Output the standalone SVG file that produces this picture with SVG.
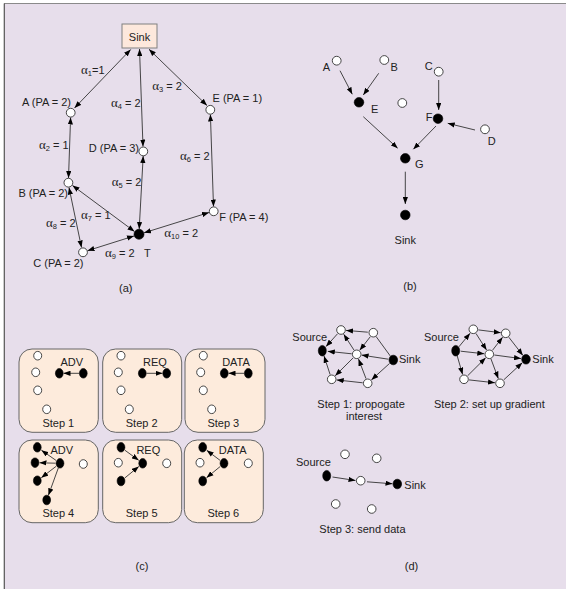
<svg xmlns="http://www.w3.org/2000/svg" width="566" height="589" viewBox="0 0 566 589">
<style>
text{font-family:"Liberation Sans",Arial,sans-serif;font-size:11px;fill:#222}
.g{font-family:"Liberation Serif","Times New Roman",serif;font-size:13px}
.sb{font-size:7.5px}
.m{text-anchor:middle}
.e{text-anchor:end}
.ln{stroke:#333;stroke-width:0.9;fill:none}
.w{fill:#fff;stroke:#333;stroke-width:0.9}
.b{fill:#000;stroke:#000;stroke-width:0.6}
.box{fill:#fdebdc;stroke:#666;stroke-width:1}
</style>
<defs>
<marker id="ah" viewBox="0 0 8 6" refX="8" refY="3" markerWidth="7" markerHeight="5.5" markerUnits="userSpaceOnUse" orient="auto-start-reverse">
<path d="M0,0 L8,3 L0,6 z" fill="#000"/>
</marker>
</defs>
<rect x="0" y="0" width="566" height="589" fill="#fff"/>
<rect x="4" y="3.5" width="562" height="586" fill="#e7deeb"/>
<line x1="4" y1="3.5" x2="566" y2="3.5" stroke="#8a8a8a" stroke-width="1"/>
<line x1="4.3" y1="3.5" x2="4.3" y2="589" stroke="#555" stroke-width="1.2"/>

<!-- Panel (a) -->
<g id="a-connectors">
<line class="ln" x1="130.7" y1="49.5" x2="74.5" y2="108" marker-start="url(#ah)" marker-end="url(#ah)"/>
<line class="ln" x1="139.5" y1="49" x2="143" y2="146.5" marker-start="url(#ah)" marker-end="url(#ah)"/>
<line class="ln" x1="149" y1="49.3" x2="207" y2="105.5" marker-start="url(#ah)" marker-end="url(#ah)"/>
<line class="ln" x1="70.6" y1="117.5" x2="68.5" y2="178" marker-start="url(#ah)" marker-end="url(#ah)"/>
<line class="ln" x1="210.4" y1="114.5" x2="213.5" y2="206.5" marker-start="url(#ah)" marker-end="url(#ah)"/>
<line class="ln" x1="143.2" y1="156" x2="139.2" y2="229" marker-start="url(#ah)" marker-end="url(#ah)"/>
<line class="ln" x1="72.5" y1="185.5" x2="134.5" y2="231.5" marker-start="url(#ah)" marker-end="url(#ah)"/>
<line class="ln" x1="69" y1="187.5" x2="81.5" y2="247.5" marker-start="url(#ah)" marker-end="url(#ah)"/>
<line class="ln" x1="87.5" y1="250.7" x2="134" y2="236" marker-start="url(#ah)" marker-end="url(#ah)"/>
<line class="ln" x1="144" y1="232.8" x2="209" y2="212.5" marker-start="url(#ah)" marker-end="url(#ah)"/>
</g>
<g id="a-sink"><rect x="122" y="24" width="35" height="24" fill="#fde8dc" stroke="#808080" stroke-width="1"/><text class="m" x="139.5" y="40.5">Sink</text></g>
<g id="a-A"><circle class="w" cx="70.7" cy="112.7" r="4.4"/><text class="e" x="71" y="106">A (PA = 2)</text></g>
<g id="a-E"><circle class="w" cx="210.3" cy="109.8" r="4.4"/><text x="212.5" y="102.3">E (PA = 1)</text></g>
<g id="a-D"><circle class="w" cx="143.3" cy="151.4" r="4.4"/><text class="e" x="139" y="151.7">D (PA = 3)</text></g>
<g id="a-B"><circle class="w" cx="68.4" cy="182.7" r="4.4"/><text class="e" x="68" y="196.7">B (PA = 2)</text></g>
<g id="a-F"><circle class="w" cx="213.7" cy="211.3" r="4.4"/><text x="219.3" y="221">F (PA = 4)</text></g>
<g id="a-T"><circle class="b" cx="139" cy="234.3" r="5"/><text x="144" y="256.7">T</text></g>
<g id="a-C"><circle class="w" cx="83" cy="252.3" r="4.4"/><text class="e" x="83.5" y="266.7">C (PA = 2)</text></g>
<g id="a-labels">
<text x="81" y="74.3"><tspan class="g">α</tspan><tspan class="sb" dy="2">1</tspan><tspan dy="-2">=1</tspan></text>
<text x="111" y="107.3"><tspan class="g">α</tspan><tspan class="sb" dy="2">4</tspan><tspan dy="-2"> = 2</tspan></text>
<text x="152.3" y="90"><tspan class="g">α</tspan><tspan class="sb" dy="2">3</tspan><tspan dy="-2"> = 2</tspan></text>
<text x="39" y="149"><tspan class="g">α</tspan><tspan class="sb" dy="2">2</tspan><tspan dy="-2"> = 1</tspan></text>
<text x="180" y="160"><tspan class="g">α</tspan><tspan class="sb" dy="2">6</tspan><tspan dy="-2"> = 2</tspan></text>
<text x="111.7" y="185.7"><tspan class="g">α</tspan><tspan class="sb" dy="2">5</tspan><tspan dy="-2"> = 2</tspan></text>
<text x="81" y="219"><tspan class="g">α</tspan><tspan class="sb" dy="2">7</tspan><tspan dy="-2"> = 1</tspan></text>
<text x="46" y="227.3"><tspan class="g">α</tspan><tspan class="sb" dy="2">8</tspan><tspan dy="-2"> = 2</tspan></text>
<text x="105" y="256.7"><tspan class="g">α</tspan><tspan class="sb" dy="2">9</tspan><tspan dy="-2"> = 2</tspan></text>
<text x="164.3" y="237.3"><tspan class="g">α</tspan><tspan class="sb" dy="2">10</tspan><tspan dy="-2"> = 2</tspan></text>
<text class="m" x="125.7" y="291.7">(a)</text>
</g>

<!-- Panel (b) -->
<g id="b-connectors">
<line class="ln" x1="340" y1="70.7" x2="352.3" y2="94.3" marker-end="url(#ah)"/>
<line class="ln" x1="378.7" y1="73.3" x2="363.3" y2="95" marker-end="url(#ah)"/>
<line class="ln" x1="438.7" y1="80" x2="438.7" y2="110" marker-end="url(#ah)"/>
<line class="ln" x1="475" y1="130" x2="447.7" y2="123.3" marker-end="url(#ah)"/>
<line class="ln" x1="363.3" y1="116.7" x2="397.7" y2="148.3" marker-end="url(#ah)"/>
<line class="ln" x1="436" y1="126" x2="413.3" y2="149.3" marker-end="url(#ah)"/>
<line class="ln" x1="405.3" y1="171.7" x2="405.3" y2="204" marker-end="url(#ah)"/>
</g>
<g id="b-A"><circle class="w" cx="336.7" cy="60.7" r="4.4"/><text x="322.7" y="70.7">A</text></g>
<g id="b-B"><circle class="w" cx="384.3" cy="60" r="4.4"/><text x="390.5" y="70.7">B</text></g>
<g id="b-C"><circle class="w" cx="438.7" cy="71.7" r="4.4"/><text x="424.7" y="70">C</text></g>
<g id="b-E"><circle class="b" cx="359" cy="102.3" r="4.8"/><text x="371" y="112.7">E</text></g>
<g id="b-X"><circle class="w" cx="402.3" cy="103" r="4.4"/></g>
<g id="b-F"><circle class="b" cx="438" cy="118.7" r="4.8"/><text x="425.7" y="121">F</text></g>
<g id="b-D"><circle class="w" cx="485" cy="129.3" r="4.4"/><text x="487.7" y="145.3">D</text></g>
<g id="b-G"><circle class="b" cx="405.3" cy="158.3" r="4.8"/><text x="415" y="168.3">G</text></g>
<g id="b-Sink"><circle class="b" cx="405.3" cy="215" r="4.8"/><text class="m" x="405.3" y="244">Sink</text></g>
<text class="m" x="410" y="290">(b)</text>

<!-- Panel (c) -->
<g id="c-step1">
<rect class="box" x="19" y="349" width="79.3" height="83.3" rx="13"/>
<ellipse class="w" cx="37.7" cy="355.7" rx="4" ry="4.3"/><ellipse class="w" cx="35.7" cy="372.3" rx="4" ry="4.3"/><ellipse class="w" cx="37.7" cy="390.3" rx="4" ry="4.3"/><ellipse class="w" cx="46.7" cy="409.3" rx="4" ry="4.3"/>
<ellipse class="b" cx="59.3" cy="373.3" rx="3.9" ry="4.8"/><ellipse class="b" cx="83.3" cy="373.3" rx="3.9" ry="4.8"/>
<line class="ln" x1="79" y1="373.3" x2="63.5" y2="373.3" marker-end="url(#ah)"/>
<text class="m" x="71.7" y="365.7">ADV</text><text class="m" x="58.3" y="427">Step 1</text>
</g>
<g id="c-step2">
<rect class="box" x="102.7" y="349" width="79" height="83.3" rx="13"/>
<ellipse class="w" cx="121" cy="355.7" rx="4" ry="4.3"/><ellipse class="w" cx="118.3" cy="372.3" rx="4" ry="4.3"/><ellipse class="w" cx="121" cy="390.3" rx="4" ry="4.3"/><ellipse class="w" cx="129.3" cy="409.3" rx="4" ry="4.3"/>
<ellipse class="b" cx="142.3" cy="373.3" rx="3.9" ry="4.8"/><ellipse class="b" cx="166.7" cy="373.3" rx="3.9" ry="4.8"/>
<line class="ln" x1="146.5" y1="373.3" x2="162.5" y2="373.3" marker-end="url(#ah)"/>
<text class="m" x="155" y="365.7">REQ</text><text class="m" x="141.7" y="427">Step 2</text>
</g>
<g id="c-step3">
<rect class="box" x="185" y="349" width="80" height="83.3" rx="13"/>
<ellipse class="w" cx="203.3" cy="355.7" rx="4" ry="4.3"/><ellipse class="w" cx="200.7" cy="372.3" rx="4" ry="4.3"/><ellipse class="w" cx="203.3" cy="390.3" rx="4" ry="4.3"/><ellipse class="w" cx="211.7" cy="409.3" rx="4" ry="4.3"/>
<ellipse class="b" cx="224.3" cy="373.3" rx="3.9" ry="4.8"/><ellipse class="b" cx="248.3" cy="373.3" rx="3.9" ry="4.8"/>
<line class="ln" x1="244" y1="373.3" x2="228.5" y2="373.3" marker-end="url(#ah)"/>
<text class="m" x="236" y="365.7">DATA</text><text class="m" x="223.3" y="427">Step 3</text>
</g>
<g id="c-step4">
<rect class="box" x="19" y="440" width="79.3" height="82.7" rx="13"/>
<ellipse class="b" cx="37.3" cy="447.3" rx="3.9" ry="4.8"/><ellipse class="b" cx="35" cy="462.7" rx="3.9" ry="4.8"/><ellipse class="b" cx="37.3" cy="480.7" rx="3.9" ry="4.8"/><ellipse class="b" cx="46.7" cy="500" rx="3.9" ry="4.8"/>
<ellipse class="b" cx="60" cy="463.3" rx="3.9" ry="4.8"/><ellipse class="w" cx="83.3" cy="464" rx="4" ry="4.3"/>
<line class="ln" x1="56" y1="460.4" x2="41.4" y2="450.2" marker-end="url(#ah)"/>
<line class="ln" x1="55.5" y1="463.2" x2="39.5" y2="462.8" marker-end="url(#ah)"/>
<line class="ln" x1="56" y1="466.4" x2="41.3" y2="477.7" marker-end="url(#ah)"/>
<line class="ln" x1="58.3" y1="468" x2="48.4" y2="495.3" marker-end="url(#ah)"/>
<text class="m" x="61.7" y="454.3">ADV</text><text class="m" x="58.3" y="516.7">Step 4</text>
</g>
<g id="c-step5">
<rect class="box" x="102.7" y="440" width="79" height="82.7" rx="13"/>
<ellipse class="b" cx="121" cy="447.3" rx="3.9" ry="4.8"/><ellipse class="w" cx="118.3" cy="462.7" rx="4" ry="4.3"/><ellipse class="b" cx="142.7" cy="463.3" rx="3.9" ry="4.8"/><ellipse class="b" cx="121" cy="481" rx="3.9" ry="4.8"/><ellipse class="w" cx="166.7" cy="463.3" rx="4" ry="4.3"/>
<line class="ln" x1="125" y1="450.3" x2="138.7" y2="460.3" marker-end="url(#ah)"/>
<line class="ln" x1="125" y1="477.8" x2="138.8" y2="466.5" marker-end="url(#ah)"/>
<text class="m" x="148.3" y="454.3">REQ</text><text class="m" x="141.7" y="516.7">Step 5</text>
</g>
<g id="c-step6">
<rect class="box" x="184.3" y="440" width="79" height="82.7" rx="13"/>
<ellipse class="b" cx="202.7" cy="447.3" rx="3.9" ry="4.8"/><ellipse class="w" cx="200" cy="462.7" rx="4" ry="4.3"/><ellipse class="b" cx="224" cy="463.3" rx="3.9" ry="4.8"/><ellipse class="b" cx="202.7" cy="481" rx="3.9" ry="4.8"/><ellipse class="w" cx="248.3" cy="463.3" rx="4" ry="4.3"/>
<line class="ln" x1="220" y1="460.3" x2="206.7" y2="450.3" marker-end="url(#ah)"/>
<line class="ln" x1="220.2" y1="466.5" x2="206.5" y2="477.8" marker-end="url(#ah)"/>
<text class="m" x="232.7" y="454.3">DATA</text><text class="m" x="223.3" y="516.7">Step 6</text>
</g>
<text class="m" x="142" y="570">(c)</text>

<!-- Panel (d) step 1 -->
<g id="d1-connectors">
<line class="ln" x1="367.8" y1="332.2" x2="346" y2="330.4" marker-end="url(#ah)"/>
<line class="ln" x1="337.6" y1="333.7" x2="326" y2="346.6" marker-end="url(#ah)"/>
<line class="ln" x1="351.7" y1="353.8" x2="327.8" y2="351.3" marker-end="url(#ah)"/>
<line class="ln" x1="354" y1="350.1" x2="343.7" y2="334.2" marker-end="url(#ah)"/>
<line class="ln" x1="353.2" y1="357.8" x2="335.2" y2="375.8" marker-end="url(#ah)"/>
<line class="ln" x1="370.3" y1="336.7" x2="359.7" y2="350.3" marker-end="url(#ah)"/>
<line class="ln" x1="388.3" y1="359.2" x2="361.6" y2="355.1" marker-end="url(#ah)"/>
<line class="ln" x1="390.3" y1="356" x2="376" y2="336.4"/>
<line class="ln" x1="389.6" y1="363.4" x2="371.4" y2="379.9" marker-end="url(#ah)"/>
<line class="ln" x1="366" y1="378.6" x2="358.5" y2="359" marker-end="url(#ah)"/>
<line class="ln" x1="362.7" y1="382.8" x2="336.7" y2="379.9" marker-end="url(#ah)"/>
<line class="ln" x1="330.1" y1="374.5" x2="324" y2="355.9" marker-end="url(#ah)"/>
</g>
<g id="d1-source"><ellipse class="b" cx="322.3" cy="350.7" rx="4" ry="5.3"/><text x="292.3" y="340.7">Source</text></g>
<g id="d1-sink"><ellipse class="b" cx="393.3" cy="360" rx="4.3" ry="4.8"/><text x="399" y="363.3">Sink</text></g>
<g id="d1-nodes">
<circle class="w" cx="341" cy="330" r="4.3"/><circle class="w" cx="373.3" cy="332.7" r="4.3"/><circle class="w" cx="356.7" cy="354.3" r="4.3"/><circle class="w" cx="331.7" cy="379.3" r="4.3"/><circle class="w" cx="367.7" cy="383.3" r="4.3"/>
</g>
<text x="317.3" y="408.3">Step 1: propogate</text>
<text x="346" y="420">interest</text>

<!-- Panel (d) step 2 -->
<g id="d2-connectors">
<line class="ln" x1="458.9" y1="346.8" x2="470.1" y2="333.2" marker-end="url(#ah)"/>
<line class="ln" x1="478.3" y1="329.9" x2="500.7" y2="332.7" marker-end="url(#ah)"/>
<line class="ln" x1="476" y1="333.5" x2="486.6" y2="350.1" marker-end="url(#ah)"/>
<line class="ln" x1="460.7" y1="351.2" x2="484.3" y2="353.8" marker-end="url(#ah)"/>
<line class="ln" x1="457.1" y1="355.5" x2="462.6" y2="374.5" marker-end="url(#ah)"/>
<line class="ln" x1="467.6" y1="375.8" x2="485.7" y2="357.8" marker-end="url(#ah)"/>
<line class="ln" x1="469" y1="379.9" x2="495" y2="382.8" marker-end="url(#ah)"/>
<line class="ln" x1="492.4" y1="350.4" x2="502.6" y2="337.2" marker-end="url(#ah)"/>
<line class="ln" x1="494.3" y1="355" x2="521" y2="358.6" marker-end="url(#ah)"/>
<line class="ln" x1="491" y1="359" x2="498.3" y2="378.6" marker-end="url(#ah)"/>
<line class="ln" x1="508.8" y1="337.2" x2="522.9" y2="355.4" marker-end="url(#ah)"/>
<line class="ln" x1="503.7" y1="379.9" x2="522.3" y2="362.7" marker-end="url(#ah)"/>
</g>
<g id="d2-source"><ellipse class="b" cx="455.7" cy="350.7" rx="4" ry="5.3"/><text x="424" y="340.7">Source</text></g>
<g id="d2-sink"><ellipse class="b" cx="526" cy="359.3" rx="4.3" ry="4.8"/><text x="532.3" y="363.3">Sink</text></g>
<g id="d2-nodes">
<circle class="w" cx="473.3" cy="329.3" r="4.3"/><circle class="w" cx="505.7" cy="333.3" r="4.3"/><circle class="w" cx="489.3" cy="354.3" r="4.3"/><circle class="w" cx="464" cy="379.3" r="4.3"/><circle class="w" cx="500" cy="383.3" r="4.3"/>
</g>
<text x="434" y="408.3">Step 2: set up gradient</text>

<!-- Panel (d) step 3 -->
<g id="d3-connectors">
<line class="ln" x1="332.5" y1="477" x2="355.5" y2="480.5" marker-end="url(#ah)"/>
<line class="ln" x1="367" y1="481.8" x2="392.5" y2="483.8" marker-end="url(#ah)"/>
</g>
<g id="d3-source"><ellipse class="b" cx="326.7" cy="475.7" rx="4" ry="5.3"/><text x="296" y="465.7">Source</text></g>
<g id="d3-mid"><circle class="w" cx="360.7" cy="480.7" r="4.3"/></g>
<g id="d3-sink"><ellipse class="b" cx="397.3" cy="484" rx="4.3" ry="4.8"/><text x="404.3" y="489">Sink</text></g>
<g id="d3-nodes">
<circle class="w" cx="345" cy="454.3" r="4.3"/><circle class="w" cx="376.7" cy="458.3" r="4.3"/><circle class="w" cx="335.7" cy="504" r="4.3"/><circle class="w" cx="371.7" cy="509" r="4.3"/>
</g>
<text x="319.3" y="533.3">Step 3: send data</text>
<text class="m" x="411.5" y="570">(d)</text>
</svg>
